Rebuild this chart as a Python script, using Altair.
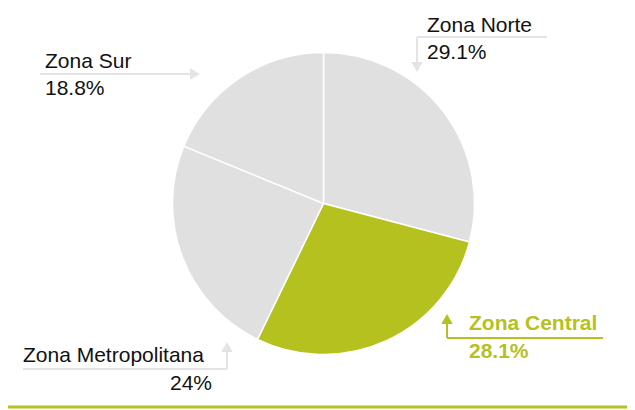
import altair as alt
import pandas as pd

# ---- data ----
zones = ["Zona Norte", "Zona Central", "Zona Metropolitana", "Zona Sur"]
shares = [29.1, 28.1, 24.0, 18.8]
share_labels = ["29.1%", "28.1%", "24%", "18.8%"]
highlight = [False, True, False, False]

GREEN = "#b5c11f"
GRAY = "#e0e0e0"
LINE_GRAY = "#e4e4e4"
FONT = "Arial, 'Liberation Sans', Helvetica, sans-serif"

# ---- layout (pixel positions of annotations) ----
CX, CY, R = 315.5, 195.5, 151
name_xy = [(419, 24), (461, 322), (15, 354), (37, 60)]
pct_xy = [(419, 51), (461, 350), (204, 382), (37, 87)]
pct_align = ["left", "left", "right", "left"]
# separator + arrow stem segments: (x, y, x2, y2)
segments = [
    (409, 29, 539, 29), (409, 29, 409, 58),
    (439, 330, 595, 330), (439, 330, 439, 312),
    (15, 361, 219, 361), (219, 361, 219, 340),
    (32, 66, 182, 66),
]
seg_color = [LINE_GRAY, LINE_GRAY, GREEN, GREEN, LINE_GRAY, LINE_GRAY, LINE_GRAY]
heads = [(409, 59, "triangle-down"), (439, 311, "triangle-up"),
         (219, 339, "triangle-up"), (187, 66, "triangle-right")]
head_color = [LINE_GRAY, GREEN, LINE_GRAY, LINE_GRAY]

W, H = 619, 402

pie_df = pd.DataFrame({
    "zone": zones, "share": shares, "idx": list(range(len(zones))),
    "col": [GREEN if h else GRAY for h in highlight],
})

pie = alt.Chart(pie_df).mark_arc(
    outerRadius=R, stroke="white", strokeWidth=1.5
).encode(
    theta=alt.Theta("share:Q", stack=True),
    order=alt.Order("idx:Q"),
    color=alt.Color("col:N", scale=None),
    x=alt.value(CX), y=alt.value(CY),
)

lab_df = pd.DataFrame({
    "name": zones,
    "pct": share_labels,
    "nx": [p[0] for p in name_xy], "ny": [p[1] for p in name_xy],
    "px": [p[0] for p in pct_xy], "py": [p[1] for p in pct_xy],
    "align": pct_align,
    "col": ["%s" % (GREEN if h else "#111111") for h in highlight],
    "bold": ["bold" if h else "normal" for h in highlight],
})

layers = [pie]
for i in range(len(zones)):
    sub = lab_df.iloc[[i]]
    weight = lab_df["bold"][i]
    color = lab_df["col"][i]
    layers.append(alt.Chart(sub).mark_text(
        align="left", baseline="alphabetic", font=FONT, fontSize=21,
        fontWeight=weight, color=color
    ).encode(x=alt.X("nx:Q", scale=None), y=alt.Y("ny:Q", scale=None), text="name:N"))
    layers.append(alt.Chart(sub).mark_text(
        align=pct_align[i], baseline="alphabetic", font=FONT, fontSize=21,
        fontWeight=weight, color=color
    ).encode(x=alt.X("px:Q", scale=None), y=alt.Y("py:Q", scale=None), text="pct:N"))

seg_df = pd.DataFrame({
    "x": [s[0] for s in segments], "y": [s[1] for s in segments],
    "x2": [s[2] for s in segments], "y2": [s[3] for s in segments],
    "col": seg_color,
})
layers.append(alt.Chart(seg_df).mark_rule(strokeWidth=2).encode(
    x=alt.X("x:Q", scale=None), y=alt.Y("y:Q", scale=None),
    x2="x2:Q", y2="y2:Q", color=alt.Color("col:N", scale=None),
))

head_df = pd.DataFrame({
    "x": [h[0] for h in heads], "y": [h[1] for h in heads],
    "shape": [h[2] for h in heads], "col": head_color,
})
layers.append(alt.Chart(head_df).mark_point(filled=True, opacity=1, size=130).encode(
    x=alt.X("x:Q", scale=None), y=alt.Y("y:Q", scale=None),
    shape=alt.Shape("shape:N", scale=None),
    color=alt.Color("col:N", scale=None),
))

layers.append(alt.Chart(pd.DataFrame({"a": [0]})).mark_rule(
    color=GREEN, strokeWidth=3
).encode(x=alt.value(0), x2=alt.value(W), y=alt.value(H - 3)))

chart = alt.layer(*layers).properties(
    width=W, height=H, autosize=alt.AutoSizeParams(type="none"), padding=0
).configure_view(stroke=None)

chart.save("out.html", embed_options={"renderer": "svg", "actions": False})
